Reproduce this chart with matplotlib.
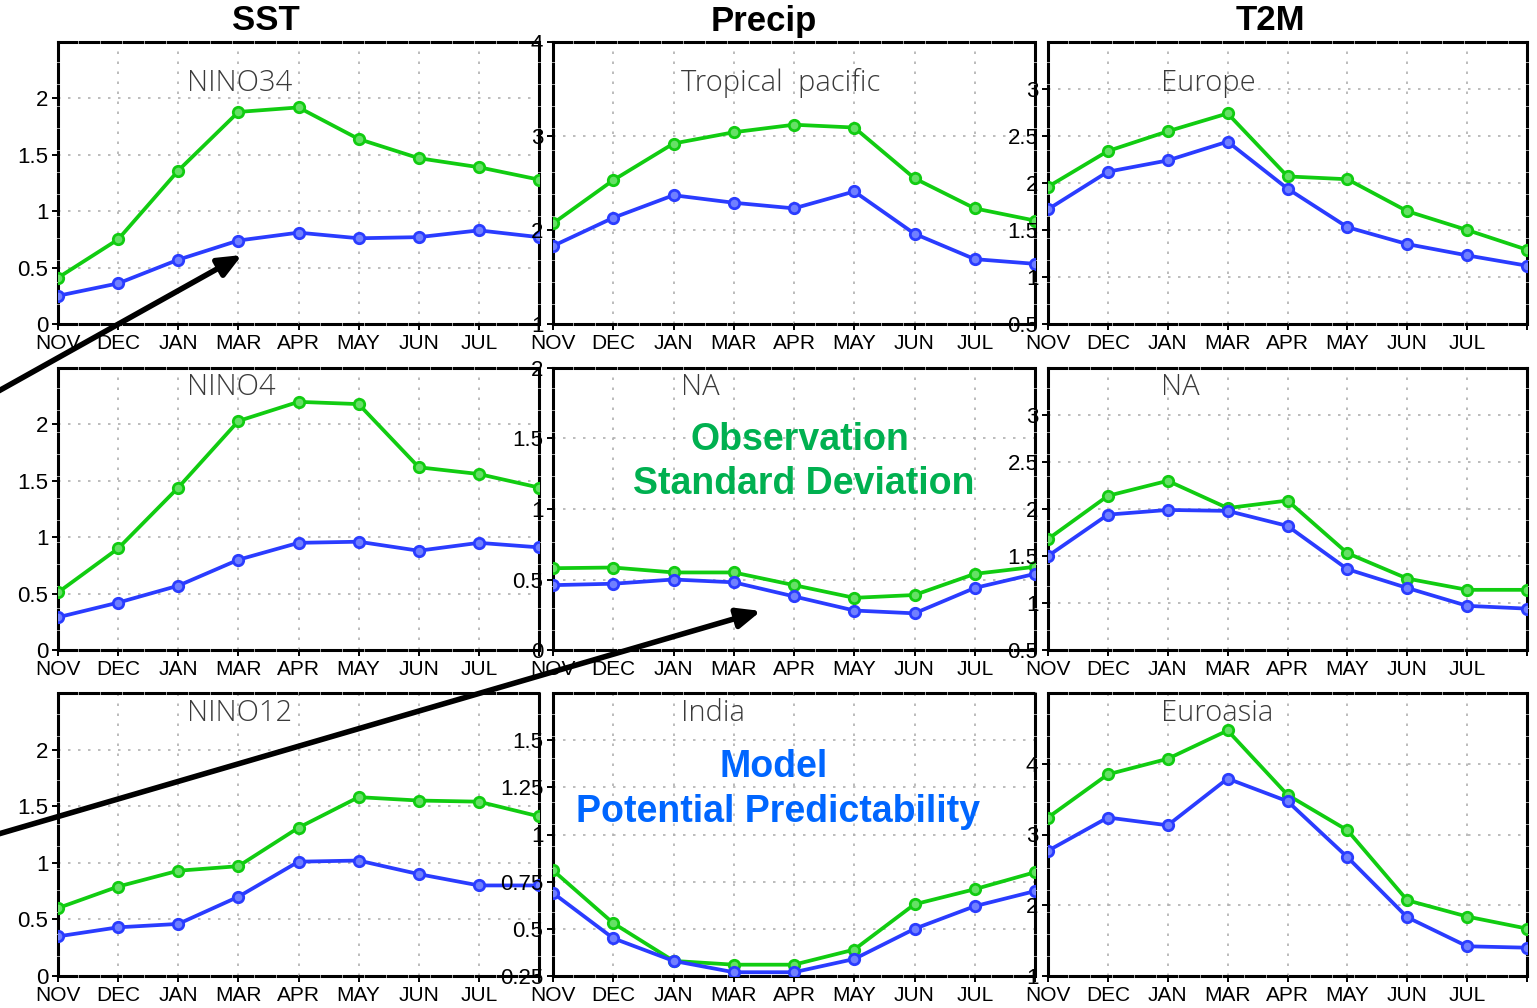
import numpy as np
import matplotlib
matplotlib.use('Agg')
import matplotlib.pyplot as plt

# ---------------- data ----------------
months = ['NOV', 'DEC', 'JAN', 'MAR', 'APR', 'MAY', 'JUN', 'JUL']

# SST
nino34_obs = [0.41, 0.75, 1.36, 1.88, 1.92, 1.64, 1.47, 1.39, 1.28]
nino34_mod = [0.25, 0.36, 0.57, 0.74, 0.81, 0.76, 0.77, 0.83, 0.77]
nino4_obs = [0.51, 0.90, 1.44, 2.03, 2.20, 2.18, 1.62, 1.56, 1.44]
nino4_mod = [0.29, 0.42, 0.57, 0.80, 0.95, 0.96, 0.88, 0.95, 0.91]
nino12_obs = [0.60, 0.79, 0.93, 0.97, 1.31, 1.58, 1.55, 1.54, 1.41]
nino12_mod = [0.35, 0.43, 0.46, 0.70, 1.01, 1.02, 0.90, 0.80, 0.80]

# Precip
trop_obs = [2.07, 2.53, 2.92, 3.04, 3.12, 3.09, 2.55, 2.23, 2.10]
trop_mod = [1.83, 2.13, 2.37, 2.29, 2.23, 2.41, 1.96, 1.69, 1.64]
na_p_obs = [0.58, 0.585, 0.55, 0.55, 0.46, 0.37, 0.39, 0.54, 0.59]
na_p_mod = [0.46, 0.47, 0.50, 0.48, 0.38, 0.28, 0.26, 0.44, 0.54]
india_obs = [0.81, 0.53, 0.33, 0.31, 0.31, 0.39, 0.63, 0.71, 0.80]
india_mod = [0.69, 0.45, 0.33, 0.27, 0.27, 0.34, 0.50, 0.62, 0.70]

# T2M
europe_obs = [1.96, 2.34, 2.55, 2.74, 2.07, 2.04, 1.70, 1.50, 1.29]
europe_mod = [1.72, 2.12, 2.24, 2.44, 1.94, 1.53, 1.35, 1.23, 1.12]
na_t_obs = [1.68, 2.14, 2.30, 2.01, 2.09, 1.53, 1.26, 1.14, 1.14]
na_t_mod = [1.50, 1.94, 1.99, 1.98, 1.82, 1.36, 1.16, 0.97, 0.94]
eura_obs = [3.24, 3.85, 4.07, 4.47, 3.56, 3.06, 2.07, 1.84, 1.67]
eura_mod = [2.77, 3.24, 3.13, 3.79, 3.47, 2.68, 1.83, 1.42, 1.40]

col_titles = ['SST', 'Precip', 'T2M']
panel_names = [['NINO34', 'Tropical  pacific', 'Europe'],
               ['NINO4', 'NA', 'NA'],
               ['NINO12', 'India', 'Euroasia']]
obs_data = [[nino34_obs, trop_obs, europe_obs],
            [nino4_obs, na_p_obs, na_t_obs],
            [nino12_obs, india_obs, eura_obs]]
mod_data = [[nino34_mod, trop_mod, europe_mod],
            [nino4_mod, na_p_mod, na_t_mod],
            [nino12_mod, india_mod, eura_mod]]
ylims = [[(0, 2.5), (1, 4), (0.5, 3.5)],
         [(0, 2.5), (0, 2), (0.5, 3.5)],
         [(0, 2.5), (0.25, 1.75), (1, 5)]]
yticks = [[[0, 0.5, 1, 1.5, 2], [1, 2, 3, 4], [0.5, 1, 1.5, 2, 2.5, 3]],
          [[0, 0.5, 1, 1.5, 2], [0, 0.5, 1, 1.5, 2], [0.5, 1, 1.5, 2, 2.5, 3]],
          [[0, 0.5, 1, 1.5, 2], [0.25, 0.5, 0.75, 1, 1.25, 1.5], [1, 2, 3, 4]]]

# ---------------- figure ----------------
W, H = 1537, 1008
fig = plt.figure(figsize=(W / 100, H / 100), dpi=100)

cols_px = [(58, 539), (553, 1035), (1048, 1527)]
rows_px = [(42, 324), (368, 650), (693, 976)]
title_x = [0.268, 0.266, 0.236]
title_y = [0.855, 0.93, 0.93]

GREEN = '#11cc11'
BLUE = '#2a3cff'
num_font = ['Liberation Sans', 'DejaVu Sans']

for r in range(3):
    for c in range(3):
        x0, x1 = cols_px[c]
        y0, y1 = rows_px[r]
        ax = fig.add_axes([x0 / W, 1 - y1 / H, (x1 - x0) / W, (y1 - y0) / H])
        obs = obs_data[r][c]
        mod = mod_data[r][c]
        xs = np.arange(len(obs))
        ax.plot(xs, obs, color=GREEN, lw=2.7, marker='o', ms=7.5,
                mfc='#66e066', mec=GREEN, mew=2, zorder=4)
        ax.plot(xs, mod, color=BLUE, lw=2.7, marker='o', ms=7.5,
                mfc='#7080ff', mec=BLUE, mew=2, zorder=4)
        ax.set_xlim(0, len(obs) - 1)
        ax.set_ylim(*ylims[r][c])
        ax.set_xticks(np.arange(len(obs)))
        ax.set_xticklabels(months + [''], family=num_font, fontsize=15)
        ax.set_yticks(yticks[r][c])
        ax.set_yticklabels([f'{v:g}' for v in yticks[r][c]],
                           family=num_font, fontsize=16)
        ax.tick_params(direction='out', length=4, width=1.4, pad=3,
                       colors='black')
        # grid
        for xv in xs[1:-1]:
            ax.axvline(xv, color='#b0b0b0', lw=1.2, ls=(0, (1.5, 4.5)), zorder=1)
        lo, hi = ylims[r][c]
        for yv in yticks[r][c]:
            if lo < yv < hi:
                ax.axhline(yv, color='#b0b0b0', lw=1.2, ls=(0, (1.5, 4.5)), zorder=1)
        for sp in ax.spines.values():
            sp.set_linewidth(2.2)
            sp.set_linestyle((0, (6, 1.2)))
            sp.set_color('black')
        ax.text(title_x[c], title_y[r], panel_names[r][c], transform=ax.transAxes,
                ha='left', va='center', fontsize=21, color='#3a3a3a',
                family=['Open Sans', 'DejaVu Sans'], fontweight='light')

# column headings
head_x = [266, 764, 1270]
for c in range(3):
    fig.text(head_x[c] / W, 1 - 21 / H, col_titles[c], ha='center', va='center',
             fontsize=25, fontweight='bold', family=num_font)

# annotation labels
fig.text(800 / W, 1 - 440 / H, 'Observation', ha='center', va='center',
         fontsize=27, fontweight='bold', color='#00b050', family=num_font)
fig.text(804 / W, 1 - 484 / H, 'Standard Deviation', ha='center', va='center',
         fontsize=27, fontweight='bold', color='#00b050', family=num_font)
fig.text(774 / W, 1 - 767 / H, 'Model', ha='center', va='center',
         fontsize=27, fontweight='bold', color='#0066ff', family=num_font)
fig.text(778 / W, 1 - 812 / H, 'Potential Predictability', ha='center', va='center',
         fontsize=27, fontweight='bold', color='#0066ff', family=num_font)

# arrows (overlay in pixel coordinates)
ov = fig.add_axes([0, 0, 1, 1], facecolor='none')
ov.set_xlim(0, W)
ov.set_ylim(H, 0)
ov.axis('off')
arrow_kw = dict(arrowstyle='-|>,head_length=1.4,head_width=0.6', color='black',
                lw=4, shrinkA=0, shrinkB=0)
ov.annotate('', xy=(242, 255), xytext=(-5, 393), arrowprops=arrow_kw)
ov.annotate('', xy=(761, 611), xytext=(-5, 835), arrowprops=arrow_kw)

fig.savefig('out.png', dpi=100)
